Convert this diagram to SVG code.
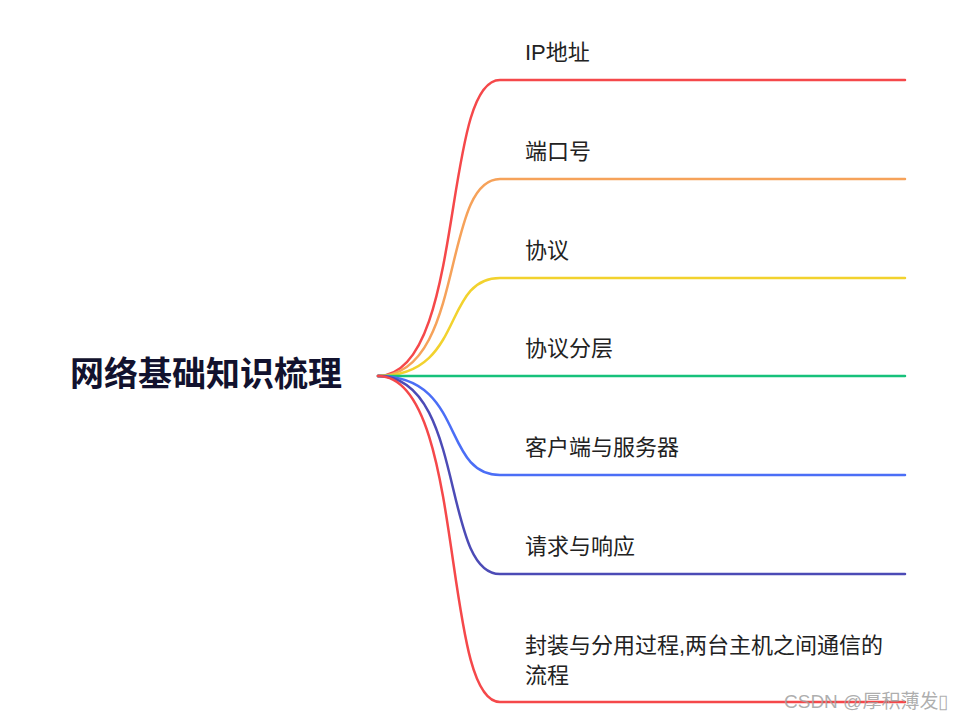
<svg xmlns="http://www.w3.org/2000/svg" width="953" height="718" viewBox="0 0 953 718">
<style>
.lbl{font-family:"Liberation Sans","Noto Sans CJK SC",sans-serif;font-size:22px;fill:#222;}
.ttl{font-family:"Liberation Sans","Noto Sans CJK SC",sans-serif;font-size:34px;font-weight:bold;fill:#12122e;}
.br{fill:none;stroke-width:2.5;stroke-linecap:round;}
.wm{font-family:"Liberation Sans","Noto Sans CJK SC",sans-serif;font-size:19px;fill:#a0a0a0;fill-opacity:0.85;}
</style>
<rect width="953" height="718" fill="#fff"/>
<g id="connectors">
<path class="br" stroke="#f5484a" d="M378 376 C466 376 441 80 500 80 L905 80"/>
<path class="br" stroke="#f6a25a" d="M378 376 C466 376 441 179 500 179 L905 179"/>
<path class="br" stroke="#f2d22e" d="M378 376 C466 376 441 278 500 278 L905 278"/>
<path class="br" stroke="#17c17b" d="M378 376 L905 376"/>
<path class="br" stroke="#4b6ef6" d="M378 376 C466 376 441 475 500 475 L905 475"/>
<path class="br" stroke="#4c4bb6" d="M378 376 C466 376 441 574 500 574 L905 574"/>
<path class="br" stroke="#f5484a" d="M378 376 C466 376 441 702 500 702 L905 702"/>
</g>
<g id="root"><text class="ttl" x="70" y="386">网络基础知识梳理</text></g>
<g id="n1"><text class="lbl" x="525" y="60">IP地址</text></g>
<g id="n2"><text class="lbl" x="525" y="159">端口号</text></g>
<g id="n3"><text class="lbl" x="525" y="258">协议</text></g>
<g id="n4"><text class="lbl" x="525" y="356">协议分层</text></g>
<g id="n5"><text class="lbl" x="525" y="455">客户端与服务器</text></g>
<g id="n6"><text class="lbl" x="525" y="554">请求与响应</text></g>
<g id="n7"><text class="lbl" x="525" y="653">封装与分用过程,两台主机之间通信的</text><text class="lbl" x="525" y="683">流程</text></g>
<g id="watermark"><text class="wm" x="784" y="708">CSDN @厚积薄发▯</text></g>
</svg>
